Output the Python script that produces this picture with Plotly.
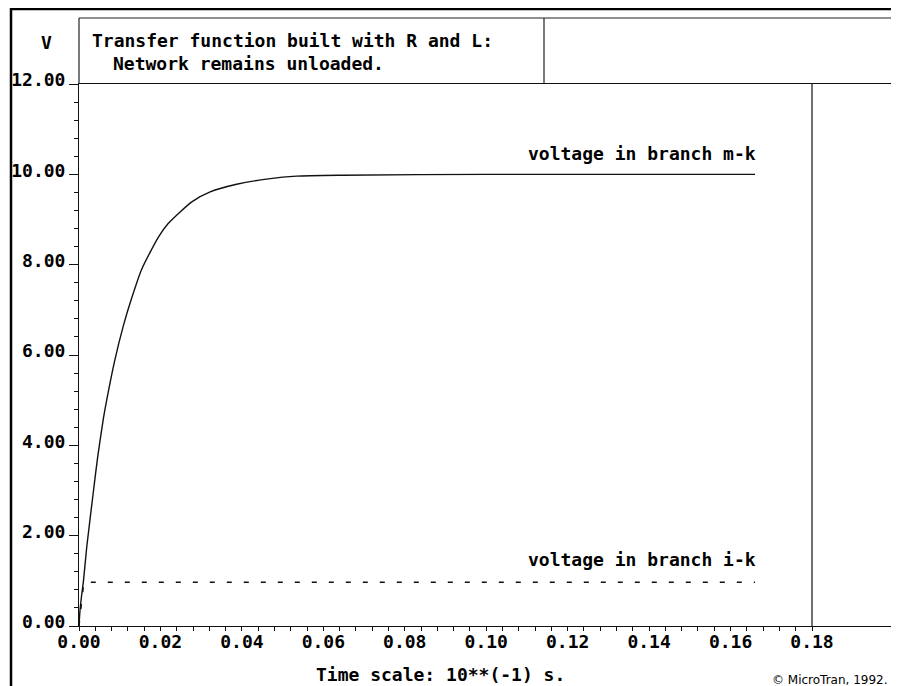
import plotly.graph_objects as go

# ---------------- data ----------------
time_mk = [0, 0.00025, 0.0007, 0.0011, 0.0019, 0.0035, 0.0046, 0.006, 0.0068, 0.0087,
           0.0109, 0.0129, 0.0154, 0.0195, 0.0219, 0.0277, 0.0322, 0.0387, 0.0465,
           0.0534, 0.0646, 0.1, 0.166]
volt_mk = [0, 0.35, 0.72, 1.0, 1.75, 2.95, 3.75, 4.6, 5.0, 5.85,
           6.65, 7.25, 7.9, 8.61, 8.91, 9.39, 9.61, 9.78, 9.90,
           9.96, 9.98, 10.0, 10.0]
time_ik = [0, 0.0012, 0.166]
volt_ik = [0, 0.97, 0.97]

x_major = [0.00, 0.02, 0.04, 0.06, 0.08, 0.10, 0.12, 0.14, 0.16, 0.18]
x_minor = [round(i * 0.004, 3) for i in range(46)]
y_major = [0, 2, 4, 6, 8, 10, 12]
x_labels = [f"{v:.2f}" for v in x_major]
y_labels = [f"{v:.2f}" for v in y_major]

label_mk = "voltage in branch m-k"
label_ik = "voltage in branch i-k"
title_1 = "Transfer function built with R and L:"
title_2 = "Network remains unloaded."
y_title = "V"
x_title = "Time scale: 10**(-1) s."
credit = "© MicroTran, 1992."

# ---------------- layout helpers ----------------
W, H = 899, 686
OFF = 8  # page body margin
def px(x):
    return (x - OFF) / W
def py(y):
    return 1 - (y - OFF) / H

FONT = "DejaVu Sans Mono"
FS = 18
TXT = dict(family=FONT, size=FS, color="black", weight="bold")

fig = go.Figure()
fig.add_trace(go.Scatter(x=time_mk, y=volt_mk, mode="lines", line_shape="spline",
                         line=dict(color="#111111", width=1.4, smoothing=0.6), showlegend=False,
                         hoverinfo="skip"))
fig.add_trace(go.Scatter(x=time_ik, y=volt_ik, mode="lines",
                         line=dict(color="#111111", width=1.4, dash="5px,12px"),
                         showlegend=False, hoverinfo="skip"))

x0, x18 = 79, 812
scale = (x18 - x0) / 0.18
xmax = (W + OFF - x0) / scale

fig.update_layout(
    width=W, height=H,
    margin=dict(l=0, r=0, t=0, b=0, autoexpand=False),
    paper_bgcolor="white", plot_bgcolor="white",
    font=TXT,
    xaxis=dict(domain=[px(x0), 1], range=[0, xmax], showgrid=False, zeroline=False,
               automargin=False,
               showline=True, mirror=True, linecolor="#111111", linewidth=1,
               tickmode="array", tickvals=x_major, ticktext=x_labels,
               ticks="outside", ticklen=4, tickwidth=1, tickcolor="#111111",
               ticklabelstandoff=-5,
               tickfont=TXT,
               minor=dict(tickmode="array", tickvals=x_minor, ticks="outside",
                          ticklen=4, tickwidth=1, tickcolor="#111111"),
               fixedrange=True),
    yaxis=dict(domain=[py(626), py(84)], range=[0, 12], showgrid=False, zeroline=False,
               automargin=False,
               showline=True, linecolor="#111111", linewidth=1,
               tickmode="array", tickvals=y_major, ticktext=y_labels,
               ticks="outside", ticklen=9, tickwidth=1, tickcolor="#111111",
               ticklabelshift=-4,
               tickfont=TXT,
               minor=dict(dtick=0.4, tick0=0, ticks="outside", ticklen=4,
                          tickwidth=1, tickcolor="#111111"),
               fixedrange=True),
)

shapes = [
    # outer frame (thick)
    dict(type="line", xref="paper", yref="paper", x0=px(10), x1=1, y0=py(9), y1=py(9),
         line=dict(color="black", width=2.5)),
    dict(type="line", xref="paper", yref="paper", x0=px(11), x1=px(11), y0=py(8), y1=0,
         line=dict(color="black", width=2.5)),
    # header box
    dict(type="line", xref="paper", yref="paper", x0=px(79), x1=1, y0=py(18), y1=py(18),
         line=dict(color="#222222", width=1.2)),
    dict(type="line", xref="paper", yref="paper", x0=px(79), x1=px(79), y0=py(18), y1=py(84),
         line=dict(color="#222222", width=1.2)),
    dict(type="line", xref="paper", yref="paper", x0=px(544), x1=px(544), y0=py(18), y1=py(84),
         line=dict(color="#222222", width=1.2)),
    # vertical boundary at 0.18
    dict(type="line", xref="x", yref="paper", x0=0.18, x1=0.18, y0=py(626), y1=py(84),
         line=dict(color="#111111", width=1.2)),
]
fig.update_layout(shapes=shapes)

ann = [
    dict(text=y_title, x=px(46), y=py(42), xanchor="center", yanchor="middle"),
    dict(text=title_1, x=px(90), y=py(40), xanchor="left", yanchor="middle"),
    dict(text=title_2, x=px(111), y=py(64), xanchor="left", yanchor="middle"),
    dict(text=x_title, x=px(314), y=py(674), xanchor="left", yanchor="middle"),
]
for a in ann:
    a.update(xref="paper", yref="paper", showarrow=False, font=TXT)
ann.append(dict(text=credit, x=px(770), y=py(680), xref="paper", yref="paper",
                xanchor="left", yanchor="middle", showarrow=False,
                font=dict(family="DejaVu Sans", size=12, color="black", weight="normal")))
ann.append(dict(text=label_mk, x=0.1667, y=10.46, xref="x", yref="y",
                xanchor="right", yanchor="middle", showarrow=False, font=TXT))
ann.append(dict(text=label_ik, x=0.1667, y=1.48, xref="x", yref="y",
                xanchor="right", yanchor="middle", showarrow=False, font=TXT))
fig.update_layout(annotations=ann)

fig.write_html("out.html")
